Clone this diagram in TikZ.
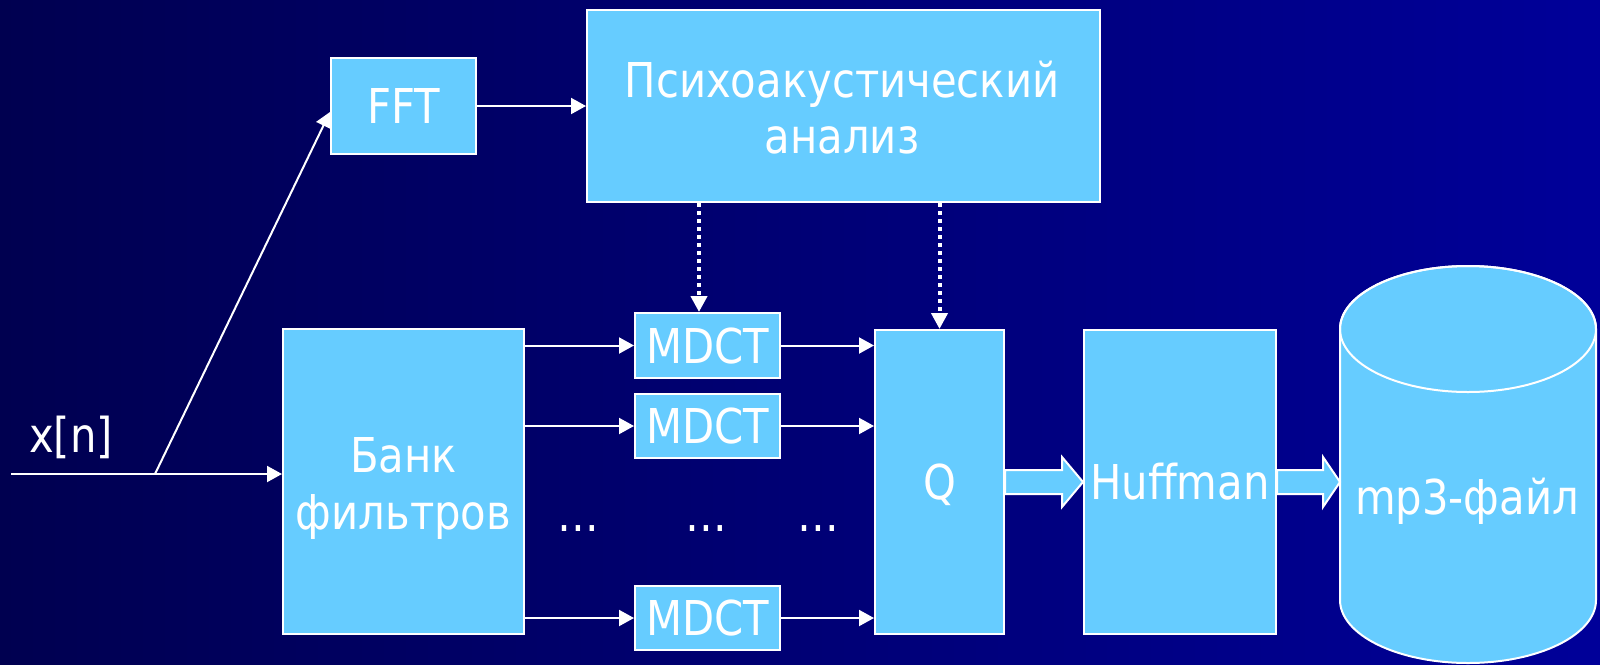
\documentclass[tikz,border=0pt]{standalone}
\usepackage{fontspec}
\setmainfont[FakeStretch=0.87]{DejaVu Sans}
\usetikzlibrary{arrows.meta,calc}
\definecolor{boxblue}{HTML}{66CCFF}
\definecolor{bgleft}{HTML}{000050}
\definecolor{bgright}{HTML}{000099}
\begin{document}
\begin{tikzpicture}[x=1pt,y=-1pt,
  every node/.style={text=white, font=\fontsize{48}{57}\selectfont, inner sep=0pt},
  blockbox/.style={draw=white, line width=2pt, fill=boxblue},
  lbl/.style={text height=35pt, text depth=0pt},
  conn/.style={draw=white, line width=2pt, -{Triangle[length=15pt,width=16pt]}},
  dotconn/.style={draw=white, line width=4pt, dash pattern=on 4pt off 4pt, -{Triangle[length=16pt,width=16pt]}},
  bigarrow/.style={draw=white, line width=2pt, fill=boxblue, line join=miter}
]
\useasboundingbox (0,0) rectangle (1600,664);
\shade[left color=bgleft, right color=bgright] (0,0) rectangle (1600,664);

% boxes
\node[blockbox, lbl, minimum width=145pt, minimum height=96pt] (fft) at (403.5,106) {FFT};
\node[blockbox, minimum width=513pt, minimum height=192pt] (psy) at (843.5,106) {};
\node[anchor=base] (psyA) at (842,97) {Психоакустический};
\node[anchor=base] (psyB) at (842,153) {анализ};
\node[blockbox, minimum width=241pt, minimum height=305pt] (bank) at (403.5,481.5) {};
\node[anchor=base] (bankA) at (403.5,472) {Банк};
\node[anchor=base] (bankB) at (403.5,529) {фильтров};
\node[blockbox, lbl, minimum width=145pt, minimum height=65pt] (m1) at (707.5,345.5) {MDCT};
\node[blockbox, lbl, minimum width=145pt, minimum height=64pt] (m2) at (707.5,426) {MDCT};
\node[blockbox, lbl, minimum width=145pt, minimum height=64pt] (m3) at (707.5,618) {MDCT};
\node[blockbox, lbl, minimum width=129pt, minimum height=304pt] (Q) at (939.5,482) {Q};
\node[blockbox, lbl, minimum width=192pt, minimum height=304pt] (huf) at (1180,482) {Huffman};

% cylinder
\filldraw[fill=boxblue, draw=white, line width=2pt]
  (1340,329) -- (1340,600) arc[start angle=180, end angle=360, x radius=128pt, y radius=63pt]
  -- (1596,329) arc[start angle=0, end angle=180, x radius=128pt, y radius=63pt] -- cycle;
\draw[white, line width=2pt] (1468,329) ellipse[x radius=128pt, y radius=63pt];
\node[anchor=base] (mp3) at (1467,514) {mp3-файл};
\coordinate (cylW) at (1340,482);

% labels
\node[anchor=base west] (xn) at (29,452) {x[n]};
\node[anchor=base] (d1) at (578,531) {…};
\node[anchor=base] (d2) at (706,531) {…};
\node[anchor=base] (d3) at (818,531) {…};

% connectors
\coordinate (in) at (11,474);
\coordinate (br) at (155,474);
\draw[conn] (in) -- (in -| bank.west);
\draw[conn] (br) -- ($(fft.west)+(0,6)$);
\draw[conn] (fft.east) -- (fft.east -| psy.west);
\coordinate (dx1) at (699,0);
\draw[dotconn] (psy.south -| dx1) -- (m1.north -| dx1);
\draw[dotconn] (psy.south -| Q.north) -- (Q.north);
\foreach \m in {m1,m2,m3}{
  \draw[conn] (\m.west -| bank.east) -- (\m.west);
  \draw[conn] (\m.east) -- (\m.east -| Q.west);
}

% block arrows
\draw[bigarrow] ($(Q.east)+(0,-12)$) -- ($(huf.west)+(-21,-12)$) -- ($(huf.west)+(-21,-25)$)
  -- (huf.west) -- ($(huf.west)+(-21,25)$) -- ($(huf.west)+(-21,12)$) -- ($(Q.east)+(0,12)$) -- cycle;
\draw[bigarrow] ($(huf.east)+(0,-12)$) -- ($(cylW)+(-17,-12)$) -- ($(cylW)+(-17,-25)$)
  -- (cylW) -- ($(cylW)+(-17,25)$) -- ($(cylW)+(-17,12)$) -- ($(huf.east)+(0,12)$) -- cycle;
\end{tikzpicture}
\end{document}
